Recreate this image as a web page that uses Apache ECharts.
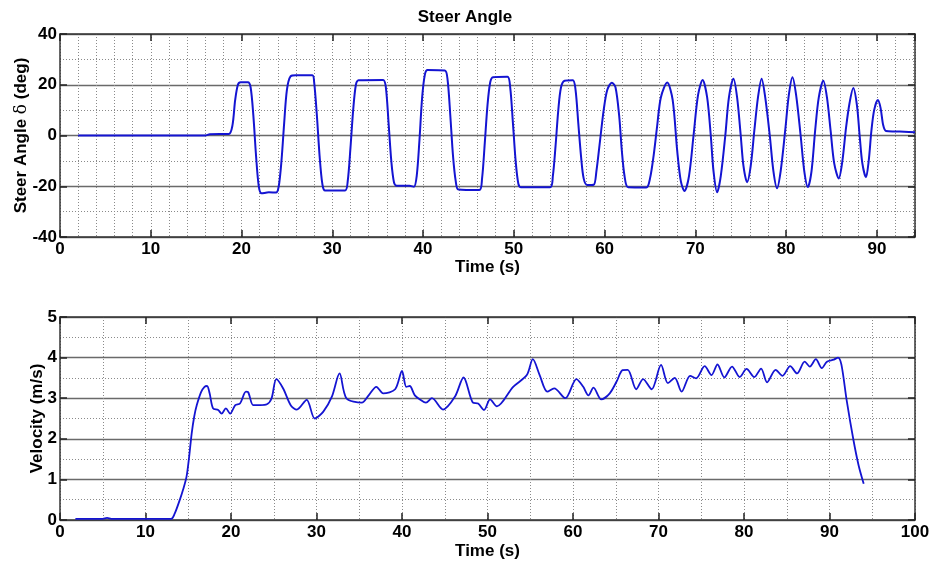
<!DOCTYPE html>
<html>
<head>
<meta charset="utf-8">
<title>Steer Angle</title>
<script src="https://cdn.jsdelivr.net/npm/echarts@6/dist/echarts.min.js"></script>
<style>
  html, body { margin: 0; padding: 0; background: #fff; }
  #chart { width: 930px; height: 563px; }
</style>
</head>
<body>
<div id="chart"></div>
<script>
// steer angle (deg) vs time (s)
const steerTime = [2, 16.0, 16.5, 18.6, 19.0, 19.3, 19.6, 19.9, 20.7, 21.0, 21.3, 21.6, 21.9, 22.2, 23.0, 23.8, 24.1, 24.4, 24.7, 25.0, 25.4, 26.0, 27.8, 28.0, 28.3, 28.6, 28.9, 29.2, 31.4, 31.7, 32.0, 32.3, 32.6, 32.9, 35.6, 35.9, 36.2, 36.5, 36.8, 37.1, 38.5, 39.0, 39.3, 39.6, 39.9, 40.2, 40.5, 42.4, 42.7, 43.0, 43.3, 43.6, 43.9, 46.2, 46.5, 46.8, 47.1, 47.4, 47.7, 49.3, 49.6, 49.9, 50.2, 50.5, 50.8, 54.0, 54.3, 54.6, 54.9, 55.2, 55.6, 56.5, 56.8, 57.1, 57.4, 57.7, 58.1, 58.8, 59.1, 59.5, 59.9, 60.3, 60.8, 61.2, 61.6, 61.9, 62.2, 62.6, 64.6, 65.0, 65.4, 65.8, 66.2, 66.9, 67.5, 68.0, 68.4, 68.8, 69.3, 69.8, 70.3, 70.8, 71.3, 71.7, 72.0, 72.4, 72.8, 73.3, 73.7, 74.2, 74.6, 75.0, 75.3, 75.7, 76.1, 76.5, 76.9, 77.3, 77.7, 78.2, 78.6, 79.0, 79.4, 79.9, 80.3, 80.7, 81.1, 81.6, 82.0, 82.4, 82.8, 83.2, 83.6, 84.1, 84.5, 84.9, 85.3, 85.8, 86.2, 86.6, 87.0, 87.4, 87.8, 88.1, 88.4, 88.8, 89.1, 89.4, 89.7, 90.1, 90.4, 90.7, 91.0, 92.0, 93.0, 94.2];
const steerAngle = [0, 0, 0.5, 0.6, 4, 14, 20, 21, 21, 19, 8, -8, -20, -22.8, -22.4, -22.5, -20, -10, 5, 18, 23.3, 23.7, 23.7, 21, 8, -8, -19, -21.7, -21.7, -18, -5, 10, 20, 21.8, 21.9, 19, 5, -10, -18.5, -19.8, -19.8, -20.2, -16, -2, 15, 24, 25.8, 25.6, 22, 8, -8, -18, -21.3, -21.5, -17, -3, 12, 21, 23, 23.2, 19, 5, -10, -19, -20.4, -20.4, -16, -4, 10, 19, 21.6, 21.8, 18, 5, -8, -17, -19.5, -19.4, -14, -2, 10, 18, 20.8, 19, 8, -6, -16, -20.4, -20.5, -17, -8, 4, 15, 20.9, 14, -6, -18, -21.9, -16, 0, 16, 21.9, 15, 0, -14, -22.4, -16, 0, 15, 22.4, 15, 0, -12, -18.4, -12, 2, 15, 22.4, 15, 0, -14, -20.8, -14, 2, 16, 23.0, 16, 0, -14, -20.3, -14, 2, 15, 21.6, 15, 2, -11, -16.9, -10, 3, 13, 18.7, 12, 0, -11, -16.5, -10, 2, 10, 14, 11, 4, 1.8, 1.6, 1.5, 1.3];

// velocity (m/s) vs time (s)
const velTime = [1.8, 5, 5.5, 6, 10, 13.0, 13.4, 14.0, 14.4, 14.8, 15.1, 15.4, 15.7, 16.0, 16.5, 16.9, 17.2, 17.5, 17.9, 18.5, 18.9, 19.4, 19.9, 20.5, 21.05, 21.75, 22.0, 22.6, 23.4, 24.2, 24.75, 25.3, 26.1, 27.0, 27.7, 28.85, 29.8, 30.8, 31.8, 32.7, 33.5, 35.3, 36.1, 37.0, 37.8, 39.2, 40.0, 40.5, 40.9, 41.5, 42.1, 42.8, 43.5, 44.8, 46.2, 47.2, 48.3, 48.9, 49.6, 50.3, 51.1, 53.0, 54.6, 55.3, 56.1, 57.0, 57.8, 59.1, 60.4, 61.2, 61.8, 62.4, 63.3, 64.3, 65.1, 65.8, 66.4, 67.4, 68.2, 69.2, 70.3, 71.1, 71.9, 72.7, 73.7, 74.4, 75.4, 76.2, 76.9, 77.7, 78.6, 79.5, 80.3, 81.2, 82.0, 82.7, 83.7, 84.5, 85.4, 86.2, 87.1, 87.7, 88.4, 89.1, 89.7, 90.5, 91.0, 91.4, 92.0, 92.8, 93.4, 94.0];
const velocity = [0.03, 0.03, 0.05, 0.03, 0.03, 0.03, 0.15, 0.49, 0.75, 1.07, 1.55, 2.13, 2.55, 2.83, 3.15, 3.28, 3.3, 3.12, 2.75, 2.71, 2.62, 2.75, 2.62, 2.83, 2.87, 3.16, 3.15, 2.83, 2.83, 2.85, 3.0, 3.47, 3.24, 2.82, 2.72, 2.96, 2.5, 2.67, 3.04, 3.61, 3.0, 2.89, 3.07, 3.28, 3.12, 3.22, 3.67, 3.28, 3.3, 3.07, 2.97, 2.89, 3.0, 2.72, 3.04, 3.51, 2.89, 2.87, 2.71, 2.97, 2.8, 3.28, 3.57, 3.96, 3.57, 3.16, 3.24, 3.0, 3.47, 3.28, 3.07, 3.26, 2.97, 3.12, 3.41, 3.69, 3.7, 3.22, 3.47, 3.22, 3.82, 3.37, 3.5, 3.16, 3.55, 3.49, 3.79, 3.57, 3.83, 3.51, 3.78, 3.52, 3.72, 3.52, 3.73, 3.39, 3.7, 3.55, 3.79, 3.61, 3.9, 3.78, 3.96, 3.74, 3.9, 3.95, 4.0, 3.82, 2.96, 1.97, 1.35, 0.89];

const FONT = '"Liberation Sans", Arial, sans-serif';
const txt = { fontFamily: FONT, fontWeight: 'bold', fontSize: 17, color: '#000' };
const boxLine = { show: true, onZero: false, lineStyle: { color: '#333', width: 1.5 } };
const tickIn = { show: true, inside: true, length: 7, lineStyle: { color: '#222', width: 1.5 } };
const dotted = { show: true, lineStyle: { color: '#8a8a8a', width: 1, type: [1, 2] } };
const solid = { show: true, lineStyle: { color: '#6a6a6a', width: 1.3 } };

const zip = (a, b) => a.map((v, i) => [v, b[i]]);

const chart = echarts.init(document.getElementById('chart'));
chart.setOption({
  backgroundColor: '#fff',
  animation: false,
  title: {
    text: 'Steer Angle', left: 'center', top: 4,
    textStyle: { ...txt }
  },
  grid: [
    { left: 60, right: 15, top: 34, height: 203, containLabel: false, outerBoundsMode: 'none' },
    { left: 60, right: 15, top: 317, height: 203, containLabel: false, outerBoundsMode: 'none' }
  ],
  xAxis: [
    // top plot: labels + dotted grid every 2 s
    {
      gridIndex: 0, type: 'value', min: 0, max: 94.2, interval: 2, position: 'bottom',
      axisLine: boxLine, axisTick: { show: false },
      axisLabel: { ...txt, margin: 4, formatter: v => (v % 10 === 0 ? v : '') },
      splitLine: dotted,
      name: 'Time (s)', nameLocation: 'middle', nameGap: 22, nameMoveOverlap: false, nameTextStyle: { ...txt }
    },
    // top plot: major ticks, bottom edge
    {
      gridIndex: 0, type: 'value', min: 0, max: 94.2, interval: 10, position: 'bottom',
      axisLine: { show: false, onZero: false }, axisTick: tickIn, axisLabel: { show: false }, splitLine: { show: false }
    },
    // top plot: box top edge
    {
      gridIndex: 0, type: 'value', min: 0, max: 94.2, interval: 10, position: 'top',
      axisLine: boxLine, axisTick: tickIn, axisLabel: { show: false }, splitLine: { show: false }
    },
    // bottom plot
    {
      gridIndex: 1, type: 'value', min: 0, max: 100, interval: 10, position: 'bottom',
      axisLine: boxLine, axisTick: tickIn,
      axisLabel: { ...txt, margin: 4 },
      splitLine: dotted, minorTick: { show: false, splitNumber: 2 }, minorSplitLine: dotted,
      name: 'Time (s)', nameLocation: 'middle', nameGap: 23, nameMoveOverlap: false, nameTextStyle: { ...txt }
    },
    {
      gridIndex: 1, type: 'value', min: 0, max: 100, interval: 10, position: 'top',
      axisLine: boxLine, axisTick: tickIn, axisLabel: { show: false }, splitLine: { show: false }
    }
  ],
  yAxis: [
    {
      gridIndex: 0, type: 'value', min: -40, max: 40, interval: 20, position: 'left',
      axisLine: boxLine, axisTick: tickIn,
      axisLabel: { ...txt, margin: 3 },
      splitLine: solid, minorTick: { show: false, splitNumber: 2 }, minorSplitLine: dotted,
      name: 'Steer Angle {d|δ} (deg)', nameLocation: 'middle', nameGap: 30, nameMoveOverlap: false,
      nameTextStyle: { ...txt, rich: { d: { fontFamily: '"DejaVu Serif", serif', fontWeight: 'normal', fontSize: 17, color: '#000' } } }
    },
    {
      gridIndex: 0, type: 'value', min: -40, max: 40, interval: 20, position: 'right',
      axisLine: boxLine, axisTick: tickIn, axisLabel: { show: false }, splitLine: { show: false }
    },
    {
      gridIndex: 1, type: 'value', min: 0, max: 5, interval: 1, position: 'left',
      axisLine: boxLine, axisTick: tickIn,
      axisLabel: { ...txt, margin: 3 },
      splitLine: solid, minorTick: { show: false, splitNumber: 2 }, minorSplitLine: dotted,
      name: 'Velocity (m/s)', nameLocation: 'middle', nameGap: 14, nameMoveOverlap: false, nameTextStyle: { ...txt }
    },
    {
      gridIndex: 1, type: 'value', min: 0, max: 5, interval: 1, position: 'right',
      axisLine: boxLine, axisTick: tickIn, axisLabel: { show: false }, splitLine: { show: false }
    }
  ],
  series: [
    {
      name: 'Steer Angle', type: 'line', xAxisIndex: 0, yAxisIndex: 0,
      data: zip(steerTime, steerAngle), showSymbol: false, smooth: 0.3,
      lineStyle: { color: '#1414d2', width: 2 }, z: 5
    },
    {
      name: 'Velocity', type: 'line', xAxisIndex: 3, yAxisIndex: 2,
      data: zip(velTime, velocity), showSymbol: false, smooth: 0.3,
      lineStyle: { color: '#1414d2', width: 1.8 }, z: 5
    }
  ]
});
</script>
</body>
</html>
